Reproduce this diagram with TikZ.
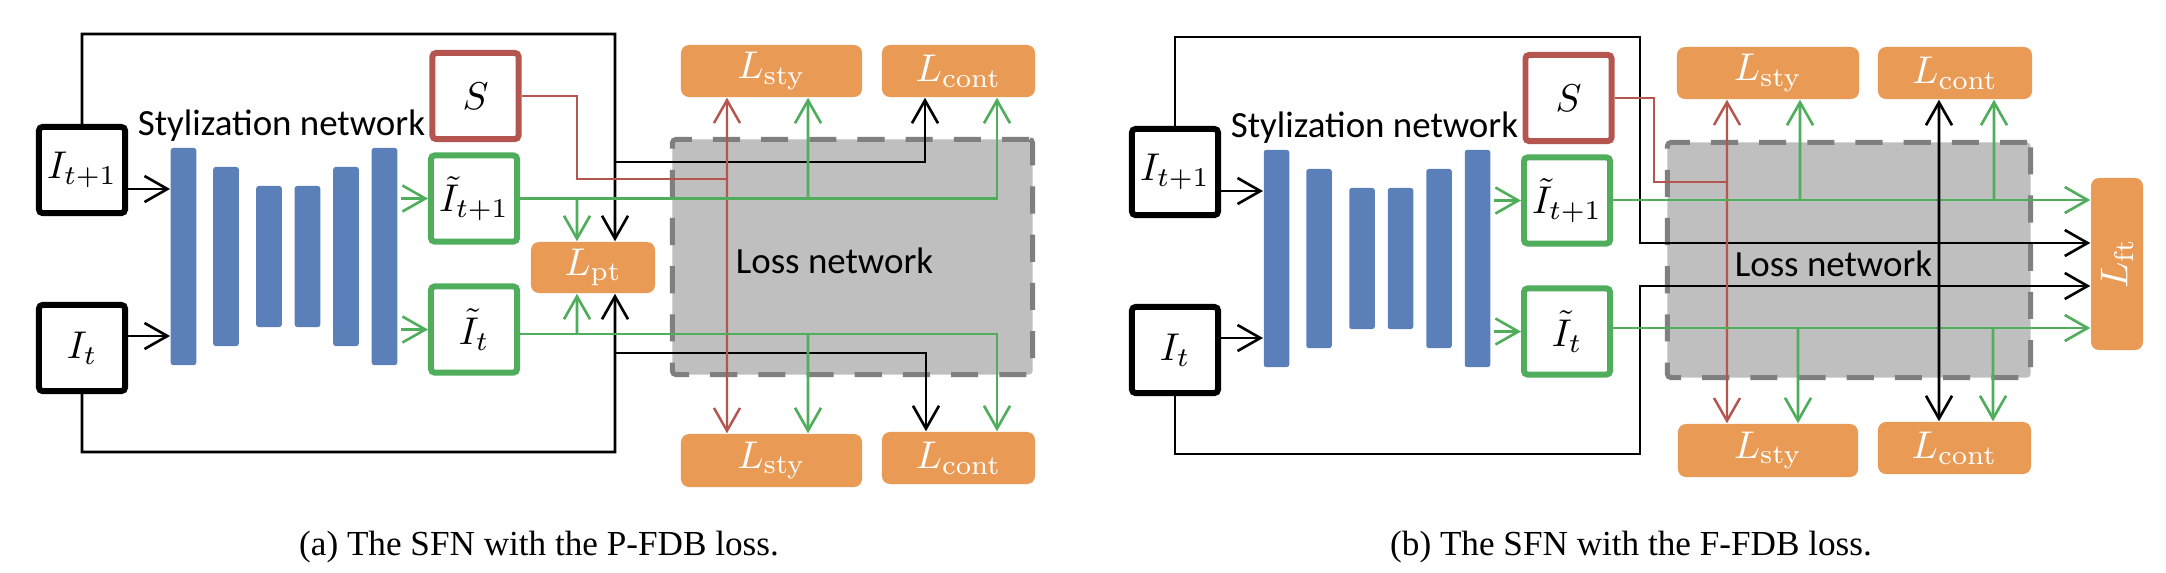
\RequirePackage{fix-cm}
\documentclass[tikz,border=0pt]{standalone}
\usepackage[no-math]{fontspec}
\setmainfont{Carlito}
\newfontfamily\capfont{Liberation Serif}
\usepackage{graphicx}
\usetikzlibrary{arrows.meta}
\definecolor{sfblue}{HTML}{5B7FB8}
\definecolor{sfgreen}{HTML}{4FAD5B}
\definecolor{sfred}{HTML}{B5554F}
\definecolor{sforange}{HTML}{E99B56}
\definecolor{lossgray}{HTML}{BFBFBF}
\definecolor{dashgray}{HTML}{7F7F7F}
\begin{document}
\begin{tikzpicture}[x=0.01cm,y=-0.01cm,
  font=\fontsize{10.5}{12}\selectfont,
  imgbox/.style={draw=black, line width=1.7pt, minimum width=0.86cm, minimum height=0.86cm, inner sep=0pt, fill=white, rounded corners=1pt, font=\fontsize{11}{12}\selectfont},
  genbox/.style={imgbox, draw=sfgreen},
  stlbox/.style={imgbox, draw=sfred},
  barbox/.style={fill=sfblue, rounded corners=0.7pt, inner sep=0pt, minimum width=0.255cm},
  lossbox/.style={fill=sforange, rounded corners=2.3pt, inner sep=0pt, text=white, font=\fontsize{11}{12}\selectfont},
  lossnet/.style={fill=lossgray, draw=dashgray, line width=1.4pt, dash pattern=on 7.7pt off 6pt, rounded corners=1pt},
  blk/.style={line width=0.75pt, draw=black},
  grn/.style={line width=0.75pt, draw=sfgreen},
  rdl/.style={line width=0.7pt, draw=sfred},
  arr/.style={-{Straight Barb[length=6.5pt,width=7.4pt]}},
  darr/.style={{Straight Barb[length=6.5pt,width=7.4pt]}-{Straight Barb[length=6.5pt,width=7.4pt]}},
]
\useasboundingbox (0,0) rectangle (2166,572);

% ---------- common left parts ----------
\foreach \p/\dx/\dy in {a/0/0,b/1093/2}{
\begin{scope}[shift={(\dx,\dy)}]
  \node[imgbox] (it1\p) at (82,170) {$I_{t+1}$};
  \node[imgbox] (it0\p) at (82,348) {$I_{t}$};
  \node[stlbox] (S\p) at (475.5,96) {$S$};
  \node[genbox] (ot1\p) at (474,198.5) {$\tilde{I}_{t+1}$};
  \node[genbox] (ot0\p) at (474,329.5) {$\tilde{I}_{t}$};
  \node[barbox, minimum height=2.17cm] (b1\p) at (183.5,256.5) {};
  \node[barbox, minimum height=1.79cm] (b2\p) at (226,256.5) {};
  \node[barbox, minimum height=1.41cm] (b3\p) at (269,256.5) {};
  \node[barbox, minimum height=1.41cm] (b4\p) at (307.5,256.5) {};
  \node[barbox, minimum height=1.79cm] (b5\p) at (346,256.5) {};
  \node[barbox, minimum height=2.17cm] (b6\p) at (384.5,256.5) {};
  \node[anchor=base] (sn\p) at (281.5,135) {Stylization network};
  \draw[blk,arr] (it1\p.east |- 0,189) -- (b1\p.west |- 0,189);
  \draw[blk,arr] (it0\p.east |- 0,336) -- (b1\p.west |- 0,336);
  \draw[grn,arr] ([xshift=0.03cm]b6\p.east |- ot1\p.west) -- (ot1\p.west);
  \draw[grn,arr] ([xshift=0.03cm]b6\p.east |- ot0\p.west) -- (ot0\p.west);
\end{scope}
}

% ---------- panel (a) right part ----------
\node[lossnet, minimum width=3.6cm, minimum height=2.35cm] (lna) at (852.5,257) {};
\node[anchor=base] (lnta) at (834.5,273) {Loss network};

\node[lossbox, minimum width=1.24cm, minimum height=0.51cm] (lpta) at (593,267.5) {$L_{\mathrm{pt}}$};
\node[lossbox, minimum width=1.81cm, minimum height=0.52cm] (lsta) at (771.5,71) {$L_{\mathrm{sty}}$};
\node[lossbox, minimum width=1.53cm, minimum height=0.52cm] (lcta) at (958.5,71) {$L_{\mathrm{cont}}$};
\node[lossbox, minimum width=1.81cm, minimum height=0.53cm] (lsba) at (771.5,460.5) {$L_{\mathrm{sty}}$};
\node[lossbox, minimum width=1.53cm, minimum height=0.52cm] (lcba) at (958.5,458) {$L_{\mathrm{cont}}$};

\draw[blk,arr] (it1a.north) |- (615,34) -- ([xshift=0.22cm]lpta.north);
\draw[blk,arr] (615,162) -| ([xshift=-0.335cm]lcta.south);
\draw[blk,arr] (it0a.south) |- (615,452) -- ([xshift=0.22cm]lpta.south);
\draw[blk,arr] (615,353) -| ([xshift=-0.325cm]lcba.north);
\draw[rdl] (Sa.east) -| (577,179) -- (727,179);
\draw[rdl,arr] (727,179) -- ([xshift=-0.445cm]lsta.south);
\draw[rdl,arr] (727,179) -- ([xshift=-0.445cm]lsba.north);
\draw[grn,arr] (ot1a.east) -| ([xshift=0.385cm]lcta.south);
\draw[grn,arr] (577,198.5) -- ([xshift=-0.16cm]lpta.north);
\draw[grn,arr] (808,198.5) -- ([xshift=0.365cm]lsta.south);
\draw[grn,arr] (ot0a.east |- 0,334) -| ([xshift=0.385cm]lcba.north);
\draw[grn,arr] (577,334) -- ([xshift=-0.16cm]lpta.south);
\draw[grn,arr] (808,334) -- ([xshift=0.365cm]lsba.north);

% ---------- panel (b) right part ----------
\node[lossnet, minimum width=3.63cm, minimum height=2.35cm] (lnb) at (1849,260) {};
\node[anchor=base] (lntb) at (1833.5,276) {Loss network};

\node[lossbox, minimum width=1.82cm, minimum height=0.52cm] (lstb) at (1768,73) {$L_{\mathrm{sty}}$};
\node[lossbox, minimum width=1.54cm, minimum height=0.52cm] (lctb) at (1955,73) {$L_{\mathrm{cont}}$};
\node[lossbox, minimum width=1.80cm, minimum height=0.53cm] (lsbb) at (1768,450.5) {$L_{\mathrm{sty}}$};
\node[lossbox, minimum width=1.53cm, minimum height=0.52cm] (lcbb) at (1954.5,448) {$L_{\mathrm{cont}}$};
\node[lossbox, minimum width=0.52cm, minimum height=1.72cm] (lftb) at (2117,264) {\rotatebox{90}{$L_{\mathrm{ft}}$}};

\draw[blk,arr] (it1b.north) |- (1640,37) |- (lftb.west |- 0,243);
\draw[blk,arr] (it0b.south) |- (1640,454) |- (lftb.west |- 0,286);
\draw[rdl] (Sb.east) -| (1654,182) -- (1727,182);
\draw[rdl,arr] (1727,182) -- ([xshift=-0.41cm]lstb.south);
\draw[rdl,arr] (1727,182) -- ([xshift=-0.41cm]lsbb.north);
\draw[grn,arr] (ot1b.east |- 0,200) -- (lftb.west |- 0,200);
\draw[grn,arr] (1800,200) -- ([xshift=0.32cm]lstb.south);
\draw[grn,arr] (1994,200) -- ([xshift=0.39cm]lctb.south);
\draw[grn,arr] (ot0b.east |- 0,328) -- (lftb.west |- 0,328);
\draw[grn,arr] (1798,328) -- ([xshift=0.30cm]lsbb.north);
\draw[grn,arr] (1993,328) -- ([xshift=0.385cm]lcbb.north);
\draw[blk,darr] ([xshift=-0.16cm]lctb.south) -- ([xshift=-0.155cm]lcbb.north);

% ---------- captions ----------
\node[font=\capfont\fontsize{10}{12}\selectfont, anchor=base] (capa) at (539,555) {(a) The SFN with the P-FDB loss.};
\node[font=\capfont\fontsize{10}{12}\selectfont, anchor=base] (capb) at (1631,555) {(b) The SFN with the F-FDB loss.};
\end{tikzpicture}
\end{document}
